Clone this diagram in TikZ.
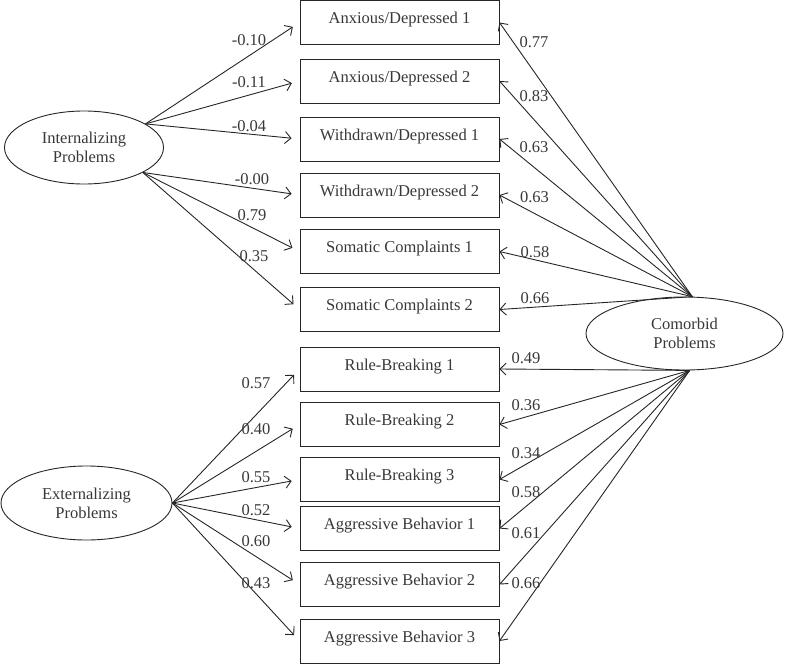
\documentclass[tikz,border=0pt]{standalone}
\usepackage{fontspec}
\setmainfont{Liberation Serif}
\usetikzlibrary{arrows.meta,shapes.geometric}
\pgfdeclarelayer{bg}
\pgfsetlayers{bg,main}
\tikzset{
        every node/.style={font=\fontsize{16.5pt}{19pt}\selectfont, text=black!78},
        latent/.style={draw=black!85, line width=0.9pt, ellipse, inner sep=0pt, align=center},
        indicator/.style={draw=black!85, line width=0.9pt, rectangle, minimum width=199pt, inner xsep=2pt, inner ysep=3pt, text height=20pt, text depth=18pt},
        loading/.style={inner sep=0pt},
        arr/.style={-{Straight Barb[length=6pt,width=12pt]}, draw=black!85, line width=0.9pt},
        arrl/.style={arr, shorten >=8pt}
}
\begin{document}
\begin{tikzpicture}
        \useasboundingbox (0pt,0pt) rectangle (785pt,-664pt);
        \node (v0) [latent, minimum width=159pt, minimum height=73pt] at (84pt, -147.5pt) {Internalizing\\Problems};
        \node (v1) [latent, minimum width=171pt, minimum height=74pt] at (86.5pt, -503pt) {Externalizing\\Problems};
        \node (v2) [latent, minimum width=197pt, minimum height=73pt] at (684.5pt, -333.5pt) {Comorbid\\Problems};
        \node (v3) [indicator] at (399.5pt, -22.5pt) {Anxious/Depressed 1};
        \node (v4) [indicator] at (399.5pt, -81pt) {Anxious/Depressed 2};
        \node (v5) [indicator] at (399.5pt, -139pt) {Withdrawn/Depressed 1};
        \node (v6) [indicator] at (399.5pt, -195pt) {Withdrawn/Depressed 2};
        \node (v7) [indicator] at (399.5pt, -251.5pt) {Somatic Complaints 1};
        \node (v8) [indicator] at (399.5pt, -309.5pt) {Somatic Complaints 2};
        \node (v9) [indicator] at (399.5pt, -369pt) {Rule-Breaking 1};
        \node (v10) [indicator] at (399.5pt, -424.5pt) {Rule-Breaking 2};
        \node (v11) [indicator] at (399.5pt, -479.5pt) {Rule-Breaking 3};
        \node (v12) [indicator] at (399.5pt, -528.5pt) {Aggressive Behavior 1};
        \node (v13) [indicator] at (399.5pt, -584.5pt) {Aggressive Behavior 2};
        \node (v14) [indicator] at (399.5pt, -641pt) {Aggressive Behavior 3};
        % loadings on the left
        \node (w0) [loading] at (249pt, -40pt) {-0.10};
        \node (w1) [loading] at (249pt, -82pt) {-0.11};
        \node (w2) [loading] at (249pt, -126pt) {-0.04};
        \node (w3) [loading] at (252pt, -179pt) {-0.00};
        \node (w4) [loading] at (252pt, -215pt) {0.79};
        \node (w5) [loading] at (254pt, -256pt) {0.35};
        \node (w6) [loading] at (256pt, -383pt) {0.57};
        \node (w7) [loading] at (256pt, -429pt) {0.40};
        \node (w8) [loading] at (256pt, -477pt) {0.55};
        \node (w9) [loading] at (256pt, -510pt) {0.52};
        \node (w10) [loading] at (256pt, -541pt) {0.60};
        \node (w11) [loading] at (256pt, -583pt) {0.43};
        % loadings on the right
        \node (w12) [loading] at (534pt, -42pt) {0.77};
        \node (w13) [loading] at (534pt, -96pt) {0.83};
        \node (w14) [loading] at (534pt, -147pt) {0.63};
        \node (w15) [loading] at (534.5pt, -197pt) {0.63};
        \node (w16) [loading] at (535pt, -252pt) {0.58};
        \node (w17) [loading] at (535pt, -298pt) {0.66};
        \node (w18) [loading] at (526pt, -358pt) {0.49};
        \node (w19) [loading] at (526pt, -405pt) {0.36};
        \node (w20) [loading] at (526pt, -453pt) {0.34};
        \node (w21) [loading] at (526pt, -492pt) {0.58};
        \node (w22) [loading] at (526pt, -533pt) {0.61};
        \node (w23) [loading] at (526pt, -583pt) {0.66};
        \begin{pgfonlayer}{bg}
                \draw (v0.21) edge [arrl] (v3.west);
                \draw (v0.21) edge [arrl] (v4.west);
                \draw (v0.21) edge [arrl] (v5.west);
                \draw (v0.337) edge [arrl] (v6.west);
                \draw (v0.337) edge [arrl] (v7.west);
                \draw (v0.337) edge [arrl] (v8.west);
                \draw (v1.east) edge [arrl] (v9.west);
                \draw (v1.east) edge [arrl] (v10.west);
                \draw (v1.east) edge [arrl] (v11.west);
                \draw (v1.east) edge [arrl] (v12.west);
                \draw (v1.east) edge [arrl] (v13.west);
                \draw (v1.east) edge [arrl] (v14.west);
                \draw (v2.78) edge [arr] (v3.east);
                \draw (v2.78) edge [arr] (v4.east);
                \draw (v2.78) edge [arr] (v5.east);
                \draw (v2.78) edge [arr] (v6.east);
                \draw (v2.78) edge [arr] (v7.east);
                \draw (v2.78) edge [arr] (v8.east);
                \draw (v2.278) edge [arr] (v9.east);
                \draw (v2.278) edge [arr] (v10.east);
                \draw (v2.278) edge [arr] (v11.east);
                \draw (v2.278) edge [arr] (v12.east);
                \draw (v2.278) edge [arr] (v13.east);
                \draw (v2.278) edge [arr] (v14.east);
        \end{pgfonlayer}
\end{tikzpicture}
\end{document}
